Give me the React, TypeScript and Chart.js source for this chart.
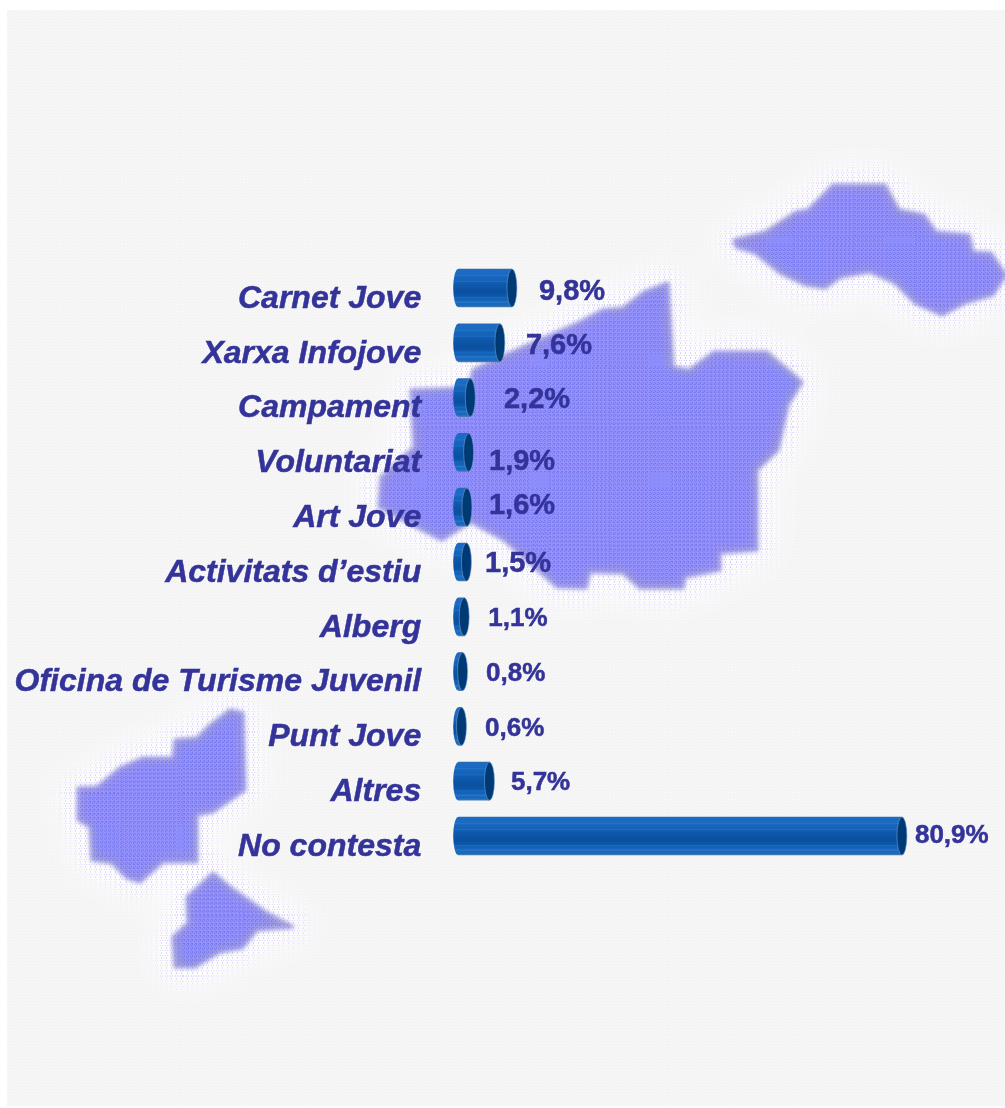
import React, { useEffect, useRef } from "react";
import { Chart, registerables } from "chart.js";

Chart.register(...registerables);

const categories = [
  "Carnet Jove",
  "Xarxa Infojove",
  "Campament",
  "Voluntariat",
  "Art Jove",
  "Activitats d\u2019estiu",
  "Alberg",
  "Oficina de Turisme Juvenil",
  "Punt Jove",
  "Altres",
  "No contesta",
];
const values = [9.8, 7.6, 2.2, 1.9, 1.6, 1.5, 1.1, 0.8, 0.6, 5.7, 80.9];

// Hand placement of each value label, relative to the end of its bar.
const labelDx = [27, 26, 33.7, 20.4, 22, 18.6, 24, 23.4, 23.5, 21.5, 13];
const labelDy = [4, 3, 2, 9.5, -1, 2, 2, 2, 2, 2, -0.5];
const labelSize = [29, 29, 29, 29, 29, 29, 26, 26, 26, 26, 26];

const TEXT = "#333399";
const FONT = '"Liberation Sans", Arial, sans-serif';
const BAR_H = 38;
const CAP_RX = 5;

// Background map silhouettes (decoration, not data).
const mapShapes: number[][][] = [
  [[668,283],[673,367],[689,370],[714,352],[767,352],[802,382],[788,405],[778,450],[757,470],[757,550],[720,553],[720,570],[685,577],[683,588],[640,588],[623,573],[590,572],[586,588],[557,587],[541,573],[504,540],[471,522],[442,540],[422,530],[379,507],[381,477],[414,447],[411,390],[469,388],[473,370],[512,352],[578,323],[603,310],[623,308],[644,292]],
  [[734,240],[765,232],[796,212],[808,210],[833,185],[885,185],[899,210],[924,215],[936,232],[969,235],[973,252],[991,253],[1006,275],[993,295],[965,303],[942,315],[915,303],[895,283],[870,272],[841,277],[825,288],[806,285],[780,273],[755,253],[736,247]],
  [[230,710],[243,713],[245,790],[213,812],[197,815],[197,862],[163,862],[140,882],[127,878],[112,863],[92,860],[90,827],[78,820],[78,788],[97,787],[120,768],[143,758],[173,758],[175,740],[197,738],[210,725]],
  [[213,873],[230,887],[267,913],[293,927],[257,930],[242,948],[220,952],[195,967],[175,967],[173,937],[188,923],[187,897]],
];

function tracePath(ctx: CanvasRenderingContext2D) {
  ctx.beginPath();
  for (const s of mapShapes) {
    s.forEach(([x, y], i) => (i ? ctx.lineTo(x, y) : ctx.moveTo(x, y)));
    ctx.closePath();
  }
}

function layer(W: number, H: number) {
  const c = document.createElement("canvas");
  c.width = W;
  c.height = H;
  return [c, c.getContext("2d")!] as const;
}

// Deterministic speckle tile for the printed-paper texture.
function dotTile(size: number, test: (x: number, y: number) => boolean, color: string) {
  const [c, g] = layer(size, size);
  g.fillStyle = color;
  for (let y = 0; y < size; y++)
    for (let x = 0; x < size; x++) if (test(x, y)) g.fillRect(x, y, 1, 1);
  return c;
}
const speckle = (x: number, y: number, mod: number) => (x * x * 3 + y * y * 7 + x * y * 5 + x) % mod === 0;

function paintBackground(ctx: CanvasRenderingContext2D, W: number, H: number) {
  ctx.save();
  ctx.fillStyle = "#ffffff";
  ctx.fillRect(0, 0, W, H);
  // paper texture
  ctx.fillStyle = "#f4f4f4";
  ctx.fillRect(7, 10, W - 7, H - 12);
  const paper = dotTile(61, (x, y) => speckle(x, y, 3), "#f9f9f9");
  ctx.fillStyle = ctx.createPattern(paper, "repeat")!;
  ctx.fillRect(7, 10, W - 7, H - 12);

  // whitish halo
  ctx.filter = "blur(16px)";
  ctx.strokeStyle = "rgba(255,255,255,0.95)";
  ctx.lineWidth = 34;
  ctx.lineJoin = "round";
  tracePath(ctx);
  ctx.stroke();
  ctx.filter = "none";

  // speckled lilac halo
  const [off, o] = layer(W, H);
  o.filter = "blur(10px)";
  o.strokeStyle = "#cfc4ff";
  o.lineWidth = 26;
  o.lineJoin = "round";
  tracePath(o);
  o.stroke();
  o.filter = "none";
  o.globalCompositeOperation = "destination-in";
  o.fillStyle = o.createPattern(dotTile(61, (x, y) => speckle(x, y, 5), "#000"), "repeat")!;
  o.fillRect(0, 0, W, H);
  ctx.drawImage(off, 0, 0);

  // map body: soft greyish edge
  const [m, g] = layer(W, H);
  g.filter = "blur(2.2px)";
  g.fillStyle = "#9c9cd6";
  g.strokeStyle = "#9c9cd6";
  g.lineWidth = 2;
  g.lineJoin = "round";
  tracePath(g);
  g.fill();
  g.stroke();
  g.filter = "none";

  // brighter core, eroded from the edge
  const [core, k] = layer(W, H);
  k.fillStyle = "#8e8efc";
  tracePath(k);
  k.fill();
  k.globalCompositeOperation = "destination-out";
  k.filter = "blur(4px)";
  k.strokeStyle = "#000";
  k.lineWidth = 10;
  k.lineJoin = "round";
  tracePath(k);
  k.stroke();
  g.drawImage(core, 0, 0);

  // printed dots, only where the map is
  g.globalCompositeOperation = "source-atop";
  g.fillStyle = g.createPattern(dotTile(61, (x, y) => speckle(x, y, 4), "rgba(95,95,220,0.4)"), "repeat")!;
  g.fillRect(0, 0, W, H);
  g.fillStyle = g.createPattern(dotTile(59, (x, y) => speckle(y, x, 4), "rgba(165,150,255,0.45)"), "repeat")!;
  g.fillRect(0, 0, W, H);
  ctx.drawImage(m, 0, 0);
  ctx.restore();
}

function cylinderGradient(ctx: CanvasRenderingContext2D, cy: number) {
  const top = cy - BAR_H / 2;
  const gr = ctx.createLinearGradient(0, top, 0, top + BAR_H);
  const stops: [number, string][] = [
    [0, "#2a68ad"],
    [0.03, "#1c6cc4"],
    [0.14, "#1a69c2"],
    [0.17, "#2274c9"],
    [0.2, "#1766bc"],
    [0.3, "#1462b8"],
    [0.33, "#1c6cc2"],
    [0.36, "#115cb0"],
    [0.5, "#0c54a6"],
    [0.62, "#0a50a0"],
    [0.72, "#0e57aa"],
    [0.75, "#186abf"],
    [0.78, "#1161b6"],
    [0.84, "#1565bc"],
    [0.87, "#2a78cb"],
    [0.9, "#1a69c0"],
    [0.96, "#1c6abc"],
    [1, "#4a7cb0"],
  ];
  stops.forEach(([p, c]) => gr.addColorStop(p, c));
  return gr;
}

const backgroundPlugin = {
  id: "paperMap",
  beforeDraw(chart: any) {
    paintBackground(chart.ctx, chart.width, chart.height);
  },
};

const cylinderPlugin = {
  id: "cylinderCaps",
  beforeDatasetsDraw(chart: any) {
    const { ctx } = chart;
    chart.getDatasetMeta(0).data.forEach((bar: any) => {
      ctx.save();
      ctx.fillStyle = cylinderGradient(ctx, bar.y);
      ctx.beginPath();
      ctx.ellipse(bar.base, bar.y, CAP_RX, BAR_H / 2, 0, 0, Math.PI * 2);
      ctx.fill();
      ctx.restore();
    });
  },
  afterDatasetsDraw(chart: any) {
    const { ctx } = chart;
    chart.getDatasetMeta(0).data.forEach((bar: any) => {
      ctx.save();
      ctx.fillStyle = "#003a75";
      ctx.strokeStyle = "rgba(120,165,215,0.7)";
      ctx.lineWidth = 0.8;
      ctx.beginPath();
      ctx.ellipse(bar.x, bar.y, CAP_RX, BAR_H / 2, 0, 0, Math.PI * 2);
      ctx.fill();
      ctx.stroke();
      ctx.restore();
    });
  },
};

const valueLabelPlugin = {
  id: "valueLabels",
  afterDraw(chart: any) {
    const { ctx } = chart;
    ctx.save();
    ctx.fillStyle = TEXT;
    ctx.strokeStyle = TEXT;
    ctx.lineWidth = 0.5;
    ctx.textAlign = "left";
    ctx.textBaseline = "middle";
    chart.getDatasetMeta(0).data.forEach((bar: any, i: number) => {
      ctx.font = `bold ${labelSize[i]}px ${FONT}`;
      const text = values[i].toFixed(1).replace(".", ",") + "%";
      ctx.fillText(text, bar.x + labelDx[i], bar.y + labelDy[i]);
      ctx.strokeText(text, bar.x + labelDx[i], bar.y + labelDy[i]);
    });
    ctx.restore();
  },
};

export default function App() {
  const ref = useRef<HTMLCanvasElement>(null);
  useEffect(() => {
    const chart = new Chart(ref.current!, {
      type: "bar",
      data: {
        labels: categories,
        datasets: [
          {
            data: values,
            barThickness: BAR_H,
            borderWidth: 0,
            backgroundColor: (c: any) => {
              const y = c.chart.scales?.y;
              const cy = y ? y.getPixelForValue(c.dataIndex) : NaN;
              if (!Number.isFinite(cy)) return "#0f58ad";
              return cylinderGradient(c.chart.ctx, cy);
            },
          },
        ],
      },
      options: {
        indexAxis: "y",
        responsive: false,
        animation: false,
        layout: { padding: { left: 0, right: 53.15, top: 260.6, bottom: 244.6 } },
        plugins: { legend: { display: false }, tooltip: { enabled: false }, title: { display: false } },
        scales: {
          x: { display: false, min: 0, max: 90, grid: { display: false } },
          y: {
            afterFit: (s: any) => {
              s.width = 458.2;
            },
            grid: { display: false, drawTicks: false },
            border: { display: false },
            ticks: {
              autoSkip: false,
              color: TEXT,
              textStrokeColor: TEXT,
              textStrokeWidth: 0.5,
              padding: 37,
              labelOffset: 11,
              font: { family: FONT, size: 32, style: "italic", weight: "bold" },
            },
          },
        },
      },
      plugins: [backgroundPlugin, cylinderPlugin, valueLabelPlugin],
    } as any);
    return () => chart.destroy();
  }, []);
  return (
    <div style={{ position: "fixed", left: 0, top: 0, width: 1005, height: 1108, overflow: "hidden" }}>
      <canvas ref={ref} width={1005} height={1108} style={{ display: "block" }} />
    </div>
  );
}
